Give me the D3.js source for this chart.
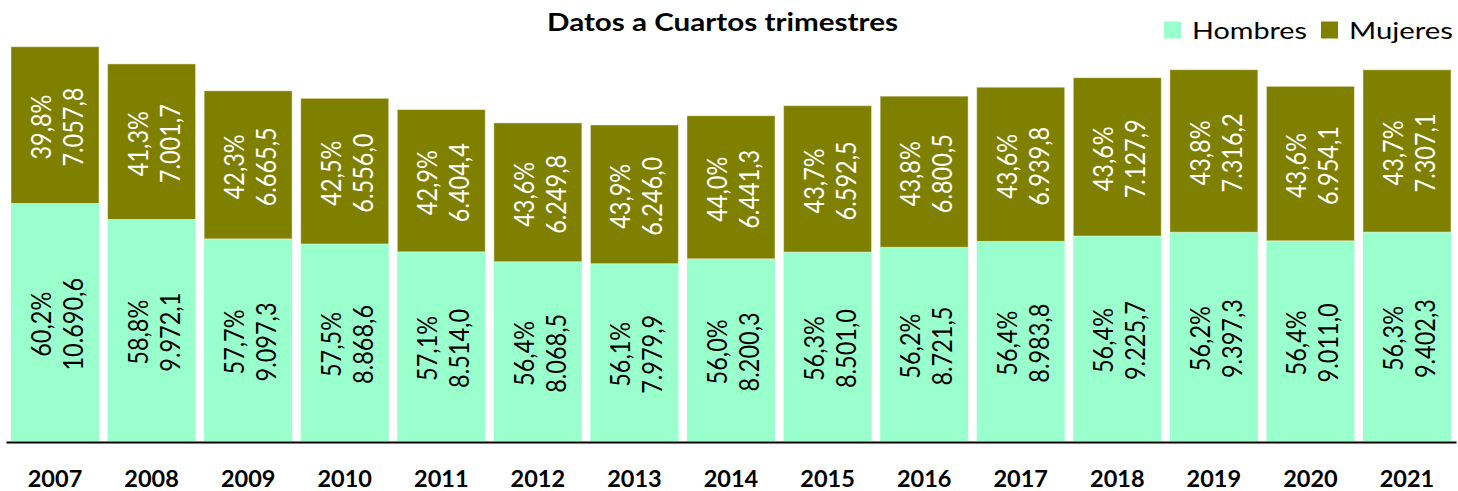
<!DOCTYPE html>
<html><head><meta charset="utf-8">
<script src="https://cdn.jsdelivr.net/npm/d3@7"></script>
<style>html,body{margin:0;padding:0;background:#fff;}svg{display:block;}</style>
</head><body>
<svg id="chart" width="1458" height="491"></svg>
<script>
const years = ["2007","2008","2009","2010","2011","2012","2013","2014","2015","2016","2017","2018","2019","2020","2021"];
const hombres = [10690.6, 9972.1, 9097.3, 8868.6, 8514.0, 8068.5, 7979.9, 8200.3, 8501.0, 8721.5, 8983.8, 9225.7, 9397.3, 9011.0, 9402.3];
const mujeres = [7057.8, 7001.7, 6665.5, 6556.0, 6404.4, 6249.8, 6246.0, 6441.3, 6592.5, 6800.5, 6939.8, 7127.9, 7316.2, 6954.1, 7307.1];
const pctHombres = [60.2, 58.8, 57.7, 57.5, 57.1, 56.4, 56.1, 56.0, 56.3, 56.2, 56.4, 56.4, 56.2, 56.4, 56.3];
const pctMujeres = [39.8, 41.3, 42.3, 42.5, 42.9, 43.6, 43.9, 44.0, 43.7, 43.8, 43.6, 43.6, 43.8, 43.6, 43.7];
const seriesNames = ["Hombres", "Mujeres"];
const title = "Datos a Cuartos trimestres";

const colors = {Hombres: "#99FFCC", Mujeres: "#808000"};
const textColors = {Hombres: "#000000", Mujeres: "#ffffff"};

const svg = d3.select("#chart");
const loc = d3.formatLocale({decimal: ",", thousands: ".", grouping: [3], currency: ["", "€"]});
const fmtVal = loc.format(",.1f");
const fmtPct = v => loc.format(".1f")(v) + "%";

const x = d3.scaleBand().domain(years).range([6, 1456]).paddingInner(0.0887).paddingOuter(0.0518);
const y = d3.scaleLinear().domain([0, 18000]).range([441, 41.1]);

const rows = years.map((yr, i) => ({year: yr, Hombres: hombres[i], Mujeres: mujeres[i], pH: pctHombres[i], pM: pctMujeres[i]}));
const stack = d3.stack().keys(seriesNames)(rows);

const g = svg.append("g");
stack.forEach(layer => {
  const key = layer.key;
  g.selectAll(null).data(layer).enter().append("rect")
    .attr("x", d => x(d.data.year))
    .attr("width", x.bandwidth())
    .attr("y", d => y(d[1]))
    .attr("height", d => y(d[0]) - y(d[1]))
    .attr("fill", colors[key])
    .attr("stroke", key === "Mujeres" ? "rgba(255,255,255,0.45)" : "none")
    .attr("stroke-width", 1);
});

// labels
const fs = 27, squeeze = 0.87, lineGap = 16;
function addCompressed(sel) {
  sel.each(function() {
    const len = this.getComputedTextLength();
    d3.select(this).attr("textLength", len * squeeze).attr("lengthAdjust", "spacingAndGlyphs");
  });
}
stack.forEach(layer => {
  const key = layer.key;
  layer.forEach(d => {
    const cx = x(d.data.year) + x.bandwidth() / 2 + 1.5;
    const cy = (y(d[0]) + y(d[1])) / 2 + 2;
    const pct = key === "Hombres" ? d.data.pH : d.data.pM;
    const val = key === "Hombres" ? d.data.Hombres : d.data.Mujeres;
    [[fmtPct(pct), -lineGap], [fmtVal(val), lineGap]].forEach(([t, dx]) => {
      const tx = g.append("text")
        .attr("transform", `translate(${cx + dx},${cy}) rotate(-90)`)
        .attr("text-anchor", "middle")
        .attr("dominant-baseline", "central")
        .attr("font-family", "Lato, 'Open Sans', sans-serif")
        .attr("font-size", fs)
        .attr("fill", textColors[key])
        .text(t);
      addCompressed(tx);
    });
  });
});

// x axis
const xAxis = d3.axisBottom(x).tickSize(0).tickSizeOuter(0).tickPadding(0);
const ax = svg.append("g").attr("transform", "translate(0,442)").call(xAxis);
ax.select(".domain").attr("stroke", "#000").attr("stroke-width", 2);
ax.selectAll(".tick text")
  .attr("y", 45)
  .attr("dy", 0)
  .attr("font-family", "Lato, sans-serif")
  .attr("font-weight", "bold")
  .attr("font-size", 23.5)
  .attr("fill", "#000");

// title
svg.append("text")
  .attr("x", 722.5).attr("y", 31)
  .attr("text-anchor", "middle")
  .attr("font-family", "Lato, sans-serif")
  .attr("font-weight", "bold")
  .attr("font-size", 24)
  .attr("textLength", 351).attr("lengthAdjust", "spacingAndGlyphs")
  .attr("fill", "#000")
  .text(title);

// legend
const legendItems = [
  {name: seriesNames[0], sx: 1164, tx: 1192, tw: 115},
  {name: seriesNames[1], sx: 1321, tx: 1349, tw: 104}
];
const lg = svg.append("g");
legendItems.forEach(it => {
  lg.append("rect").attr("x", it.sx).attr("y", 21.5).attr("width", 17).attr("height", 17).attr("fill", colors[it.name]);
  lg.append("text").attr("x", it.tx).attr("y", 38.5)
    .attr("font-family", "Lato, sans-serif").attr("font-size", 24)
    .attr("textLength", it.tw).attr("lengthAdjust", "spacingAndGlyphs")
    .attr("fill", "#000").text(it.name);
});
</script>
</body></html>
